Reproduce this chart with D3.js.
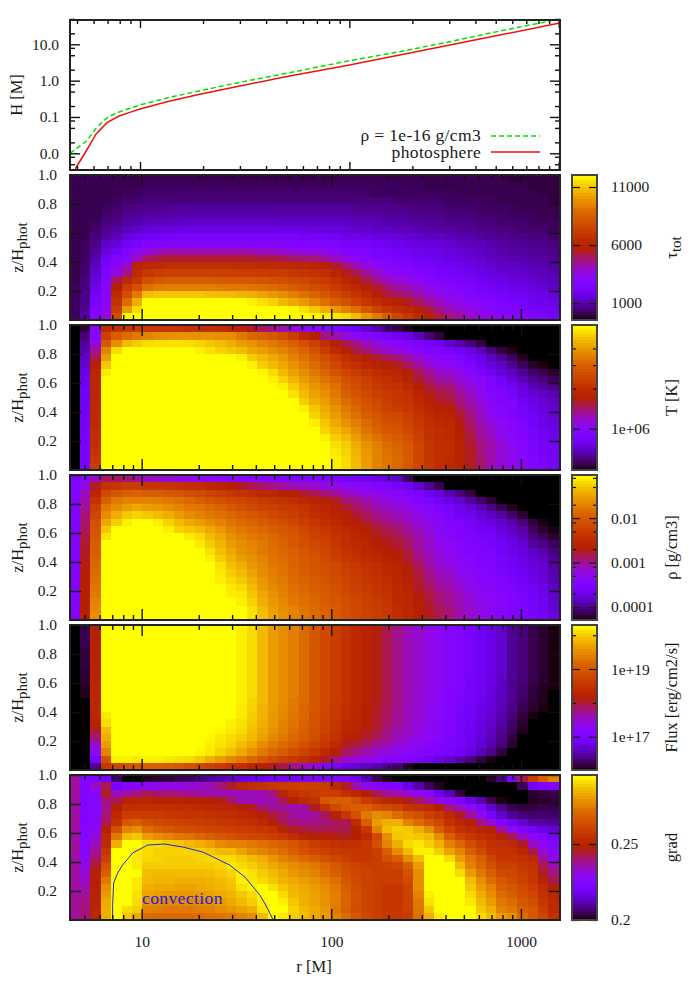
<!DOCTYPE html>
<html><head><meta charset="utf-8">
<script src="https://cdn.jsdelivr.net/npm/d3@7"></script>
<style>html,body{margin:0;padding:0;background:#fff}svg{display:block}text{font-family:"Liberation Serif",serif;fill:#1a1a1a}</style>
</head><body><svg id="c" width="700" height="1000"></svg>
<script>
// r [M] edges of the heat-map columns
const rEdges=[4.17,4.73,5.37,6.09,6.91,7.84,8.90,10.1,11.5,13.0,14.8,16.8,19.0,21.6,24.5,27.8,31.5,35.8,40.6,46.1,52.3,59.3,67.3,76.4,86.7,98.3,112,127,144,163,185,210,238,270,307,348,395,448,508,577,654,742,842,956,1085,1231,1397,1585];
// z/Hphot top edge of each of the 20 rows
const zTop=[1,.95,.9,.85,.8,.75,.7,.65,.6,.55,.5,.45,.4,.35,.3,.25,.2,.15,.1,.05];
// top panel
const rRed=[4.9,5.46,6.17,6.96,7.94,9.16,10,13.45,19.3,30,48.2,100,174,302,523,1011];
const hRed=[.0037,.0102,.034,.0695,.106,.14,.166,.263,.42,.711,1.24,2.69,5.07,9.57,18,38.5];
const rGreen=[4.63,5.58,6.23,7.04,8.03,10,13.45,19.3,30,48.2,100,174,302,523,906];
const hGreen=[.01,.0222,.053,.1,.14,.213,.333,.528,.9,1.52,3.54,6.25,11.8,23.2,43.8];
// convection boundary
const rConv=[7.03,7.03,7.12,7.47,7.94,8.96,10.76,13.2,16.5,21,29.1,35,42,45.7,49.1];
const zConv=[0,.1,.255,.324,.379,.462,.517,.524,.503,.469,.379,.297,.172,.09,.007];
// cell values: position along each panel's colour bar, in percent
const tauGrid=[
[5,5,5,5,5,5,5,5,5,5,5,5,5,5,5,5,5,5,5,5,5,5,5,5,5,5,5,5,5,5,5,5,5,5,5,5,5,5,5,5,5,5,4,4,4,4,4],
[5,5,5,5,5,5,5,6,6,6,6,6,6,6,6,6,6,6,6,6,6,6,6,6,6,6,6,6,6,6,6,6,6,6,5,5,5,5,5,5,5,5,5,5,4,4,4],
[5,5,5,5,5,6,6,7,7,7,7,7,7,7,7,7,7,7,7,7,7,7,7,7,7,7,7,7,7,6,6,6,6,6,6,6,6,5,5,5,5,5,5,5,5,4,4],
[5,5,5,5,6,7,7,8,8,8,8,8,8,8,8,8,8,8,8,8,8,8,8,8,8,8,8,8,8,8,8,7,7,7,7,7,6,6,6,6,6,5,5,5,5,5,4],
[5,5,5,6,7,8,9,9,9,10,10,10,10,10,10,10,10,10,10,10,10,10,10,10,10,10,10,10,9,9,9,9,8,8,8,8,7,7,7,6,6,6,6,5,5,5,5],
[5,5,5,7,8,10,10,11,11,11,12,12,12,12,12,12,12,12,12,12,12,12,12,12,12,12,12,11,11,11,10,10,10,9,9,9,8,8,8,7,7,7,6,6,6,5,5],
[5,5,6,8,9,11,12,13,14,14,14,15,15,15,15,15,15,15,15,15,14,14,14,14,14,14,14,13,13,13,12,12,11,11,10,10,9,9,9,8,8,7,7,7,6,6,6],
[5,5,7,9,11,13,15,16,17,17,18,18,18,18,18,18,18,18,18,18,18,18,18,17,17,17,16,15,15,14,14,13,13,12,12,11,11,10,10,9,9,8,8,7,7,7,6],
[5,5,8,11,13,17,19,20,21,21,22,22,22,22,22,22,22,22,22,22,22,22,21,21,21,20,19,19,18,17,17,16,15,15,14,14,13,12,12,11,10,10,9,9,8,8,7],
[5,6,9,14,16,21,23,25,25,26,26,26,26,26,26,26,26,26,26,26,26,26,25,25,25,24,23,22,22,21,20,19,18,17,17,16,15,14,13,13,12,11,10,10,9,9,8],
[5,6,10,17,20,26,30,33,36,38,38,38,38,38,38,38,38,37,36,35,34,33,32,31,30,28,26,25,24,23,22,21,20,19,18,18,17,16,15,14,13,12,11,11,10,10,9],
[5,6,12,20,25,28,36,44,46,47,47,47,47,47,47,47,47,47,46,46,45,44,43,42,40,36,32,29,27,25,24,23,22,21,20,19,18,17,16,15,14,13,12,12,11,11,10],
[5,7,13,22,28,35,52,54,55,56,56,56,56,56,56,56,56,56,55,55,55,54,53,52,50,47,42,37,32,29,27,26,25,23,22,21,20,19,18,17,15,14,14,13,12,12,11],
[5,7,15,24,33,42,55,60,62,63,63,63,63,63,63,63,62,62,62,61,61,60,59,58,56,53,49,45,40,35,31,29,28,26,25,23,22,21,19,18,17,16,15,15,14,13,12],
[5,8,17,26,45,55,60,67,70,71,71,71,71,71,70,70,70,70,69,68,67,66,65,63,61,58,54,50,46,41,37,34,32,30,27,26,24,23,22,20,19,18,17,16,15,14,13],
[6,8,19,27,50,62,68,76,78,79,79,79,79,79,78,78,78,77,76,75,73,71,69,67,65,61,58,55,51,47,43,39,37,34,31,29,27,26,24,22,21,20,19,18,17,16,14],
[6,9,21,28,55,67,78,90,92,92,92,92,92,91,90,90,89,88,86,84,82,79,76,73,70,66,63,59,55,51,47,44,42,38,35,32,29,28,26,24,23,22,21,20,19,18,16],
[6,9,23,29,58,75,88,100,100,100,100,100,100,100,100,100,100,98,96,94,90,87,84,80,76,72,68,64,60,56,52,50,48,44,40,36,33,31,29,27,25,24,23,22,20,19,18],
[6,10,25,30,62,85,95,100,100,100,100,100,100,100,100,100,100,100,100,100,100,99,96,92,88,84,80,76,70,64,60,56,54,50,46,41,37,35,32,30,27,26,25,24,22,21,20],
[6,11,27,33,66,100,100,100,100,100,100,100,100,100,100,100,100,100,100,100,100,100,100,99,98,97,95,90,84,78,72,65,60,55,51,46,42,39,36,33,31,29,28,27,25,24,22]];
const tempGrid=[
[0,4,27,55,58,60,62,60,60,60,59,58,58,57,56,54,52,48,44,41,38,35,32,29,27,25,22,20,16,12,8,5,2,0,0,0,0,0,0,0,0,0,0,0,0,0,0],
[0,8,27,63,72,75,78,80,82,83,83,83,83,83,82,82,78,74,72,70,67,62,55,50,42,38,33,30,27,25,22,20,18,13,8,4,0,0,0,0,0,0,0,0,0,0,0],
[0,10,33,70,82,90,93,95,96,96,96,95,94,92,90,88,85,83,80,78,75,72,68,63,57,50,45,41,37,33,30,28,26,24,22,20,15,12,8,4,0,0,0,0,0,0,0],
[0,12,40,80,95,100,100,100,100,100,100,100,98,96,94,92,90,87,85,82,80,77,73,68,62,55,50,46,42,38,35,33,30,28,26,24,22,20,17,13,8,4,1,0,0,0,0],
[0,14,45,85,100,100,100,100,100,100,100,100,100,100,100,100,98,93,90,87,84,80,76,72,67,62,57,54,50,47,44,42,38,34,30,28,27,24,21,18,14,10,6,2,0,0,0],
[0,15,50,92,100,100,100,100,100,100,100,100,100,100,100,100,100,98,93,90,87,83,79,75,70,65,60,57,54,52,50,48,44,39,34,31,30,27,24,20,17,14,10,6,3,1,0],
[0,17,53,97,100,100,100,100,100,100,100,100,100,100,100,100,100,100,99,95,90,86,82,78,74,69,65,62,59,56,54,53,50,45,40,36,35,31,28,24,20,17,14,10,7,5,3],
[0,18,53,100,100,100,100,100,100,100,100,100,100,100,100,100,100,100,100,98,94,89,85,81,77,73,68,65,62,59,57,55,52,47,43,39,38,34,31,27,24,20,17,13,10,8,6],
[0,19,54,100,100,100,100,100,100,100,100,100,100,100,100,100,100,100,100,100,98,93,88,84,80,76,70,67,64,61,59,58,55,50,46,43,42,37,33,29,26,23,20,16,13,11,9],
[0,20,54,100,100,100,100,100,100,100,100,100,100,100,100,100,100,100,100,100,100,96,90,86,83,78,72,69,66,63,61,60,58,53,49,46,45,40,36,31,27,25,22,18,16,14,12],
[0,20,54,100,100,100,100,100,100,100,100,100,100,100,100,100,100,100,100,100,100,100,93,88,85,80,75,72,68,65,62,60,59,55,51,48,47,42,38,33,28,26,24,20,18,16,14],
[0,20,55,100,100,100,100,100,100,100,100,100,100,100,100,100,100,100,100,100,100,100,98,92,87,83,78,74,70,67,64,62,60,57,53,51,50,45,40,35,29,27,25,22,19,17,15],
[0,21,55,100,100,100,100,100,100,100,100,100,100,100,100,100,100,100,100,100,100,100,100,94,89,85,80,76,72,69,66,65,62,59,55,53,52,47,42,36,30,28,26,23,20,18,16],
[0,21,55,100,100,100,100,100,100,100,100,100,100,100,100,100,100,100,100,100,100,100,100,98,92,87,83,79,75,71,68,67,64,60,57,55,54,49,43,38,33,30,27,24,21,19,17],
[0,21,56,100,100,100,100,100,100,100,100,100,100,100,100,100,100,100,100,100,100,100,100,100,94,90,87,82,77,73,70,69,66,62,58,56,55,50,45,39,35,31,28,25,22,20,18],
[0,22,56,100,100,100,100,100,100,100,100,100,100,100,100,100,100,100,100,100,100,100,100,100,98,93,90,85,80,76,73,71,68,63,58,56,55,51,46,40,36,32,29,26,23,21,19],
[0,22,57,100,100,100,100,100,100,100,100,100,100,100,100,100,100,100,100,100,100,100,100,100,100,96,93,88,83,79,75,73,70,65,60,57,56,52,47,42,38,34,30,27,24,22,20],
[0,22,58,100,100,100,100,100,100,100,100,100,100,100,100,100,100,100,100,100,100,100,100,100,100,97,94,89,84,80,76,74,70,65,60,57,56,52,48,42,38,34,31,27,24,22,20],
[0,22,60,100,100,100,100,100,100,100,100,100,100,100,100,100,100,100,100,100,100,100,100,100,100,98,95,90,85,80,77,75,71,65,60,56,55,52,48,43,38,34,31,28,25,23,21],
[0,22,62,100,100,100,100,100,100,100,100,100,100,100,100,100,100,100,100,100,100,100,100,100,100,98,95,90,85,80,77,74,70,65,60,56,55,52,48,43,38,34,32,29,26,24,22]];
const rhoGrid=[
[25,27,36,44,44,42,40,36,35,34,33,32,31,30,29,28,28,27,27,26,26,25,25,24,24,23,22,21,20,18,17,14,6,0,0,0,0,0,0,0,0,0,0,0,0,0,0],
[25,33,48,58,60,62,62,60,60,59,58,57,56,54,52,50,48,45,43,41,39,38,36,35,33,32,30,29,28,26,25,23,20,15,10,5,0,0,0,0,0,0,0,0,0,0,0],
[25,36,53,66,70,72,73,72,71,70,69,67,66,64,62,60,58,56,54,53,51,50,47,45,42,40,36,34,32,31,29,28,26,23,19,16,12,8,4,0,0,0,0,0,0,0,0],
[26,38,58,72,78,80,80,80,79,78,76,74,72,70,68,66,65,63,61,59,58,56,54,52,50,48,43,41,38,35,33,31,29,26,24,21,18,15,11,7,3,0,0,0,0,0,0],
[26,40,63,78,82,85,87,85,84,82,80,78,77,75,73,70,68,66,64,63,61,60,58,55,53,51,47,44,41,38,36,34,32,29,27,24,22,19,16,13,9,5,2,0,0,0,0],
[26,42,65,82,88,92,94,92,90,88,85,82,80,78,76,74,72,70,68,66,64,62,60,57,55,52,50,47,44,41,39,37,35,32,29,27,24,21,19,16,14,11,7,3,0,0,0],
[26,43,68,87,93,98,100,100,98,94,90,87,85,82,80,77,75,73,71,69,67,65,62,60,57,55,52,50,47,44,42,40,37,34,31,28,26,24,22,19,17,15,12,8,4,1,0],
[26,44,69,92,100,100,100,100,100,98,94,92,90,87,84,80,78,76,74,72,70,68,65,62,60,57,55,52,50,47,45,43,40,36,33,29,27,25,23,21,20,17,14,11,6,3,1],
[26,46,70,96,100,100,100,100,100,100,100,97,95,90,87,83,80,78,76,74,72,70,67,64,62,59,56,54,52,49,47,45,42,38,35,30,28,26,24,23,22,19,16,13,8,6,3],
[26,47,71,100,100,100,100,100,100,100,100,100,97,93,89,85,82,80,78,75,73,70,68,66,64,60,57,55,53,50,49,47,44,39,35,32,30,27,25,24,23,20,18,15,11,9,6],
[26,48,72,100,100,100,100,100,100,100,100,100,100,96,91,87,83,81,78,76,74,72,70,67,65,62,58,56,54,52,50,49,46,40,36,33,30,28,26,24,24,21,19,17,14,12,8],
[26,48,73,100,100,100,100,100,100,100,100,100,100,98,93,89,85,83,80,77,75,73,71,69,66,63,60,58,56,54,52,50,47,42,38,34,32,29,27,25,25,22,20,18,16,14,10],
[26,49,74,100,100,100,100,100,100,100,100,100,100,100,96,91,88,84,81,78,76,73,71,69,67,65,62,60,58,56,54,52,49,44,39,35,33,30,28,26,26,23,21,19,17,15,11],
[26,49,75,100,100,100,100,100,100,100,100,100,100,100,97,93,90,86,82,79,77,74,72,70,68,66,63,61,59,57,55,53,50,46,41,37,35,31,29,27,26,24,22,20,18,16,12],
[26,50,76,100,100,100,100,100,100,100,100,100,100,100,98,95,92,88,84,80,78,75,73,71,69,67,64,62,60,58,56,53,51,47,42,39,37,33,30,28,27,25,23,21,19,17,13],
[26,50,77,100,100,100,100,100,100,100,100,100,100,100,100,97,95,90,85,81,79,76,74,72,70,68,65,63,61,59,57,55,52,48,44,40,38,34,31,29,28,26,24,22,20,18,14],
[26,50,78,100,100,100,100,100,100,100,100,100,100,100,100,98,97,92,87,83,80,77,75,73,71,69,66,64,62,60,58,55,53,49,46,42,40,36,33,30,29,27,25,23,21,19,15],
[26,50,80,100,100,100,100,100,100,100,100,100,100,100,100,100,98,94,88,84,81,78,76,74,72,70,67,65,63,61,59,55,53,50,47,43,40,37,34,31,30,28,26,24,22,20,15],
[26,50,81,100,100,100,100,100,100,100,100,100,100,100,100,100,100,96,90,85,82,80,77,75,73,71,68,66,64,62,60,56,54,51,48,45,42,38,35,32,30,28,26,24,22,20,16],
[26,50,83,100,100,100,100,100,100,100,100,100,100,100,100,100,100,96,91,86,83,80,78,75,73,71,68,66,64,62,60,56,54,51,48,45,42,38,35,32,30,28,26,25,23,21,18]];
const fluxGrid=[
[0,5,50,100,100,100,100,100,100,100,100,100,100,100,100,100,98,95,90,85,82,79,75,70,66,62,58,55,52,49,45,41,37,35,32,30,27,25,23,20,18,15,10,8,5,3,1],
[0,5,50,100,100,100,100,100,100,100,100,100,100,100,100,100,98,95,90,85,82,79,75,70,66,62,58,55,52,49,45,41,37,35,32,30,27,25,23,20,18,15,10,8,5,3,1],
[0,5,51,100,100,100,100,100,100,100,100,100,100,100,100,100,98,95,90,85,82,79,75,70,66,62,58,55,52,49,45,41,37,35,32,30,27,25,23,20,18,15,10,8,5,3,1],
[0,4,51,100,100,100,100,100,100,100,100,100,100,100,100,100,98,95,90,85,82,79,75,70,66,62,58,55,52,49,45,41,37,35,32,30,27,25,23,20,18,15,10,8,5,3,1],
[0,4,51,100,100,100,100,100,100,100,100,100,100,100,100,100,98,95,90,85,82,79,75,70,66,62,58,55,52,49,45,41,37,35,32,30,27,25,23,20,18,15,10,8,5,3,1],
[0,4,52,100,100,100,100,100,100,100,100,100,100,100,100,100,98,95,90,85,82,79,75,70,66,62,58,55,52,49,45,41,37,35,32,30,27,25,23,20,18,15,10,8,5,3,1],
[0,3,52,100,100,100,100,100,100,100,100,100,100,100,100,100,98,95,90,85,82,79,75,70,66,62,58,55,52,49,45,41,37,35,32,30,27,25,23,20,18,15,10,8,5,3,1],
[0,3,52,100,100,100,100,100,100,100,100,100,100,100,100,100,98,95,90,85,82,79,75,70,66,62,58,55,52,49,45,41,37,35,32,30,27,25,22,20,18,14,10,8,5,3,1],
[0,2,53,100,100,100,100,100,100,100,100,100,100,100,100,100,98,95,90,85,82,79,75,70,66,62,58,55,52,49,45,41,37,35,32,30,27,25,22,20,17,14,10,7,4,2,1],
[0,2,53,100,100,100,100,100,100,100,100,100,100,100,100,100,98,95,90,85,82,79,75,70,66,62,58,55,52,49,45,41,37,35,32,30,26,24,22,20,17,14,10,7,4,2,0],
[0,0,53,100,100,100,100,100,100,100,100,100,100,100,100,100,98,94,90,85,82,78,75,70,66,61,58,55,52,48,45,41,37,34,32,29,26,24,22,19,17,13,9,6,3,2,0],
[0,0,54,100,100,100,100,100,100,100,100,100,100,100,100,100,97,94,89,85,81,78,74,70,65,61,57,54,51,48,44,41,37,34,31,29,26,23,21,18,16,13,9,5,3,1,0],
[0,0,53,97,100,100,100,100,100,100,100,100,100,100,100,100,97,93,89,84,81,77,74,69,65,61,56,54,51,47,44,40,37,34,31,29,25,23,21,18,15,12,8,4,1,0,0],
[0,0,52,95,100,100,100,100,100,100,100,100,100,100,100,98,96,92,88,84,80,77,73,69,64,60,55,53,50,47,43,40,36,33,31,28,25,23,20,17,15,11,7,3,0,0,0],
[0,0,47,90,100,100,100,100,100,100,100,100,100,100,99,97,95,91,87,83,79,76,72,68,64,59,54,52,49,46,42,38,36,33,30,28,25,22,20,17,14,10,6,2,0,0,0],
[0,0,42,88,100,100,100,100,100,100,100,100,100,99,97,95,93,90,86,81,78,74,71,67,62,58,52,50,47,44,41,37,34,32,30,27,24,22,19,16,13,9,4,0,0,0,0],
[0,0,35,85,100,100,100,100,100,100,100,100,100,98,96,94,90,87,82,78,75,72,68,64,60,55,48,46,43,40,37,34,32,30,28,26,24,22,19,15,12,8,3,0,0,0,0],
[0,0,30,80,100,100,100,100,100,100,100,100,99,97,94,91,87,83,78,74,71,67,64,60,55,50,44,41,38,35,33,31,30,28,26,24,23,21,17,13,9,4,0,0,0,0,0],
[0,0,22,68,98,98,97,98,98,97,96,95,92,88,85,81,78,74,70,66,63,60,57,53,48,42,36,34,32,30,28,27,26,24,21,18,15,12,8,4,1,0,0,0,0,0,0],
[0,0,10,60,65,68,70,72,72,71,70,68,66,63,61,58,56,53,51,48,45,41,37,33,28,23,18,16,14,12,10,7,2,0,0,0,0,0,0,0,0,0,0,0,0,0,0]];
const gradGrid=[
[39,25,25,22,7,0,0,2,3,4,5,6,8,10,12,14,17,18,19,21,22,23,24,25,25,25,24,20,12,5,2,0,0,0,0,0,0,0,0,0,3,8,22,45,62,72,80],
[39,26,35,45,22,26,28,30,31,32,33,34,35,37,42,47,54,56,58,60,61,62,63,63,62,55,48,38,30,27,26,25,18,12,6,2,0,0,0,0,0,0,0,6,20,24,26],
[39,26,28,48,36,38,42,44,43,42,41,40,39,38,37,37,37,37,38,42,52,58,60,61,62,62,57,54,50,44,40,38,34,30,27,18,12,4,0,0,0,0,0,0,3,4,5],
[39,26,27,42,45,52,53,53,52,52,52,51,51,50,49,44,38,37,37,38,45,50,55,58,70,72,72,68,62,58,54,52,48,44,38,32,28,24,18,12,5,1,0,0,2,3,4],
[39,26,27,40,50,57,57,57,57,57,56,56,55,54,53,52,50,48,42,40,40,38,40,48,58,66,70,72,72,68,66,64,59,57,55,50,42,36,30,24,15,9,5,4,4,5,5],
[39,26,27,42,55,62,63,62,61,60,60,59,59,58,57,56,55,53,50,46,43,40,38,40,44,52,60,68,78,82,80,75,70,68,63,60,55,48,40,30,22,15,10,8,7,7,7],
[39,26,28,45,58,70,72,68,66,65,64,63,62,61,60,60,58,57,55,50,45,42,41,41,42,44,45,55,72,85,88,88,80,75,70,65,58,54,50,42,34,26,20,15,12,11,10],
[39,27,30,50,68,80,82,75,72,70,68,67,66,65,64,63,62,61,60,58,52,48,46,45,45,45,45,50,60,80,90,93,92,88,82,72,64,58,55,52,50,40,30,26,22,18,16],
[39,27,33,55,78,90,92,85,82,80,78,76,74,72,70,68,66,65,64,62,60,56,52,50,50,49,48,50,55,65,82,92,93,92,90,82,72,65,60,57,55,50,45,36,30,25,22],
[39,27,37,55,88,100,100,96,95,93,92,90,88,86,82,80,80,78,76,74,72,70,66,62,60,58,57,58,60,68,80,88,95,97,93,88,80,74,67,62,58,56,55,48,36,30,25],
[39,28,40,60,100,100,97,95,94,94,94,94,94,92,90,90,86,82,80,78,75,72,68,65,63,61,60,60,60,62,72,82,90,98,98,93,86,80,72,66,60,58,58,54,45,34,27],
[39,29,43,63,100,100,97,95,94,93,93,93,94,95,95,95,93,90,88,84,80,77,74,72,68,65,62,60,60,62,68,72,82,90,100,100,95,85,78,72,65,60,60,58,55,40,32],
[39,32,47,68,100,100,97,93,93,93,93,93,93,93,94,97,95,93,90,87,84,82,80,78,74,70,66,64,62,62,63,65,72,85,100,100,100,90,80,74,68,63,63,60,58,45,38],
[39,34,50,72,100,100,100,91,90,90,90,90,90,91,92,94,98,96,93,90,87,84,82,80,76,72,68,65,64,62,62,62,68,82,100,100,100,95,85,78,72,66,65,62,60,48,42],
[39,36,50,78,100,100,97,90,89,89,88,88,88,89,90,92,98,97,95,92,89,87,85,83,80,76,70,66,64,62,62,62,66,82,100,100,100,100,90,82,75,70,67,64,60,52,45],
[39,38,51,82,100,100,97,88,87,87,86,86,87,88,89,91,96,98,100,96,92,89,87,85,82,78,72,67,64,62,60,60,64,82,100,100,100,100,92,85,80,72,70,66,62,56,50],
[40,40,52,85,100,100,96,86,85,84,84,84,85,86,87,89,92,95,100,100,95,90,88,86,83,79,73,68,64,62,60,60,64,80,98,100,100,100,95,88,82,75,72,68,65,58,53],
[40,41,52,87,100,100,95,83,82,81,81,81,82,83,85,87,90,93,98,100,98,92,88,86,83,79,73,68,64,62,60,60,64,78,96,100,100,100,97,90,85,78,75,70,67,60,55],
[40,42,53,88,100,95,93,80,79,78,78,78,79,80,82,84,86,88,96,100,100,94,90,87,84,78,72,67,64,62,60,60,63,77,92,100,100,100,100,92,88,80,78,72,70,62,55],
[40,42,53,88,100,92,87,75,74,74,74,74,75,76,77,78,80,82,90,100,97,93,90,87,85,80,75,70,65,62,60,60,62,76,88,97,100,100,100,95,90,85,82,75,70,65,58]];
// axis ticks
const xMajor=[10,100,1000];
const xMinorTop=[5,6,7,8,9,20,30,40,50,60,70,80,90,200,300,400,500,600,700,800,900];
const hMajor=[10,1,.1,.01];
const hMinor=[50,20,8,5,2,.8,.5,.2,.08,.05,.02,.008,.005];
const zTicks=[.2,.4,.6,.8,1];
const panels=[
 {grid:tauGrid,title:["τ","tot"],scale:d3.scaleLinear,dom:[-465,12034],major:[1000,6000,11000],labels:["1000","6000","11000"],minor:[]},
 {grid:tempGrid,title:["T [K]",""],scale:d3.scaleLog,dom:[4.9e5,6e6],major:[1e6],labels:["1e+06"],minor:[2e6,3e6,4e6]},
 {grid:rhoGrid,title:["ρ [g/cm3]",""],scale:d3.scaleLog,dom:[5.1e-5,.093],major:[1e-4,1e-3,.01],labels:["0.0001","0.001","0.01"],minor:[.08,.05,.02,.008,.005,.002,8e-4,5e-4,2e-4,8e-5]},
 {grid:fluxGrid,title:["Flux [erg/cm2/s]",""],scale:d3.scaleLog,dom:[1.04e16,2e20],major:[1e17,1e19],labels:["1e+17","1e+19"],minor:[1e18,1e20]},
 {grid:gradGrid,title:["grad",""],scale:d3.scaleLinear,dom:[.2,.2954],major:[.2,.25],labels:["0.2","0.25"],minor:[]}
];
const svg=d3.select("#c");
const fs=15.5;
const palette=t=>{t=Math.max(0,Math.min(1,t));const c=v=>Math.round(255*v);
 return `rgb(${c(Math.sqrt(t))},${c(t*t*t)},${c(Math.max(0,Math.sin(2*Math.PI*t)))})`;};
const color=d3.scaleSequential(palette).domain([0,100]);
const L=70,R=560,BL=572,BR=597;

function styleAxis(g,sw){g.select(".domain").remove();g.selectAll("line").attr("stroke","#111").attr("stroke-width",sw||1.4);
 g.selectAll("text").attr("font-size",fs).attr("fill","#1a1a1a").attr("font-family","Liberation Serif");}
function frame(y0,y1,col){svg.append("rect").attr("x",L).attr("y",y0).attr("width",R-L).attr("height",y1-y0).attr("fill","none").attr("stroke",col||"#222").attr("stroke-width",2);}
function rotLabel(x,y,main,sub){const t=svg.append("text").attr("transform",`translate(${x},${y}) rotate(-90)`).attr("text-anchor","middle").attr("font-size",16.5);
 t.append("tspan").text(main);if(sub)t.append("tspan").attr("dy",4).attr("font-size",15).text(sub);}

// top panel
{
 const y0=20,y1=170;
 const x=d3.scaleLog().domain([4.63,1014]).range([L,R]);
 const y=d3.scaleLog().domain([.00347,46.7]).range([y1,y0]);
 const clip=svg.append("defs").append("clipPath").attr("id","top");clip.append("rect").attr("x",L).attr("y",y0).attr("width",R-L).attr("height",y1-y0);
 const line=d3.line().x(d=>x(d[0])).y(d=>y(d[1]));
 const g=svg.append("g").attr("clip-path","url(#top)");
 g.append("path").attr("d",line(d3.zip(rGreen,hGreen))).attr("fill","none").attr("stroke","#00e000").attr("stroke-width",1.5).attr("stroke-dasharray","5,3");
 g.append("path").attr("d",line(d3.zip(rRed,hRed))).attr("fill","none").attr("stroke","#f01010").attr("stroke-width",1.5);
 const ax=(f,s,vals,size,fmt)=>{const a=svg.append("g").attr("transform",s).call(f.tickValues(vals).tickSize(size).tickFormat(fmt||""));styleAxis(a);return a;};
 ax(d3.axisBottom(x),`translate(0,${y1})`,xMajor,-8);
 ax(d3.axisBottom(x),`translate(0,${y1})`,xMinorTop,-4);
 ax(d3.axisTop(x),`translate(0,${y0})`,xMajor,-8);
 ax(d3.axisTop(x),`translate(0,${y0})`,xMinorTop,-4);
 ax(d3.axisLeft(y).tickPadding(11),`translate(${L},0)`,hMajor,-10,d=>d>=.1?(d>=10?"10.0":d>=1?"1.0":"0.1"):"0.0");
 ax(d3.axisLeft(y),`translate(${L},0)`,hMinor,-5);
 ax(d3.axisRight(y),`translate(${R},0)`,hMajor,-10);
 ax(d3.axisRight(y),`translate(${R},0)`,hMinor,-5);
 frame(y0,y1);
 rotLabel(22,95,"H [M]");
 const leg=[["ρ = 1e-16 g/cm3","#00e000","5,3",141,136],["photosphere","#f01010",null,158,152]];
 leg.forEach(d=>{svg.append("text").attr("x",481).attr("y",d[3]).attr("text-anchor","end").attr("font-size",17.5).attr("letter-spacing",.35).text(d[0]);
  svg.append("line").attr("x1",491).attr("x2",540).attr("y1",d[4]).attr("y2",d[4]).attr("stroke",d[1]).attr("stroke-width",1.5).attr("stroke-dasharray",d[2]);});
}

// heat panels
const xHeat=d3.scaleLog().domain([4.19,1607]).range([L,R]);
const xMinorHeat=xMinorTop;
const panelH=145,panelGap=150,firstTop=175;
panels.forEach((p,k)=>{
 const y0=firstTop+k*panelGap,y1=y0+panelH;
 const y=d3.scaleLinear().domain([0,1]).range([y1,y0]);
 const g=svg.append("g").attr("shape-rendering","crispEdges");
 p.grid.forEach((row,i)=>{
  const zt=zTop[i],zb=i<19?zTop[i+1]:0;
  g.selectAll(null).data(row).join("rect")
   .attr("x",(d,j)=>xHeat(rEdges[j]))
   .attr("width",(d,j)=>xHeat(rEdges[j+1])-xHeat(rEdges[j])+.5)
   .attr("y",y(zt)).attr("height",y(zb)-y(zt)+.5)
   .attr("fill",d=>color(d));
 });
 if(k===4){
  const line=d3.line().x(d=>xHeat(d[0])).y(d=>y(d[1]));
  svg.append("path").attr("d",line(d3.zip(rConv,zConv))).attr("fill","none").attr("stroke","#2424e0").attr("stroke-width",1);
  svg.append("text").attr("x",142).attr("y",904).attr("font-size",17.5).attr("letter-spacing",.4).style("fill","#1c1ce0").text("convection");
 }
 const ax=(f,s,vals,size,fmt)=>{const a=svg.append("g").attr("transform",s).call(f.tickValues(vals).tickSize(size).tickFormat(fmt||""));styleAxis(a);return a;};
 ax(d3.axisBottom(xHeat),`translate(0,${y1})`,xMajor,-11);
 ax(d3.axisBottom(xHeat),`translate(0,${y1})`,xMinorHeat,-5);
 ax(d3.axisTop(xHeat),`translate(0,${y0})`,xMajor,-11);
 ax(d3.axisTop(xHeat),`translate(0,${y0})`,xMinorHeat,-5);
 ax(d3.axisLeft(y).tickPadding(13),`translate(${L},0)`,zTicks,-11,d3.format(".1f"));
 ax(d3.axisRight(y),`translate(${R},0)`,zTicks,-11);
 frame(y0,y1);
 rotLabel(23,(y0+y1)/2,"z/H","phot");

 // colour bar
 const bandPct=d3.range(0,100,2);
 const yPct=d3.scaleLinear().domain([0,100]).range([y1,y0]);
 svg.append("g").attr("shape-rendering","crispEdges").selectAll("rect").data(bandPct).join("rect")
  .attr("x",BL).attr("width",BR-BL)
  .attr("y",d=>yPct(d+2)).attr("height",yPct(0)-yPct(2)+.6)
  .attr("fill",d=>color(d+1));
 const yBar=p.scale().domain(p.dom).range([y1,y0]);
 const tr=(vals,size)=>{
  const a=svg.append("g").attr("transform",`translate(${BR},0)`).call(d3.axisRight(yBar).tickValues(vals).tickSize(-size).tickFormat(""));styleAxis(a,1.2);
  const b=svg.append("g").attr("transform",`translate(${BL},0)`).call(d3.axisLeft(yBar).tickValues(vals).tickSize(-size).tickFormat(""));styleAxis(b,1.2);
 };
 tr(p.major,8);tr(p.minor,4);
 const lab=svg.append("g").attr("transform",`translate(${BR},0)`).call(d3.axisRight(yBar).tickValues(p.major).tickSize(0).tickPadding(14).tickFormat((d,i)=>p.labels[i]));styleAxis(lab);
 svg.append("rect").attr("x",BL).attr("y",y0).attr("width",BR-BL).attr("height",panelH).attr("fill","none").attr("stroke","#444").attr("stroke-width",2);
 rotLabel(677,(y0+y1)/2,p.title[0],p.title[1]);
});
// bottom labels
const bot=svg.append("g").attr("transform","translate(0,920)").call(d3.axisBottom(xHeat).tickValues(xMajor).tickSize(0).tickPadding(16).tickFormat(d3.format("d")));styleAxis(bot);
svg.append("text").attr("x",314).attr("y",972).attr("text-anchor","middle").attr("font-size",16.5).text("r [M]");
</script></body></html>
